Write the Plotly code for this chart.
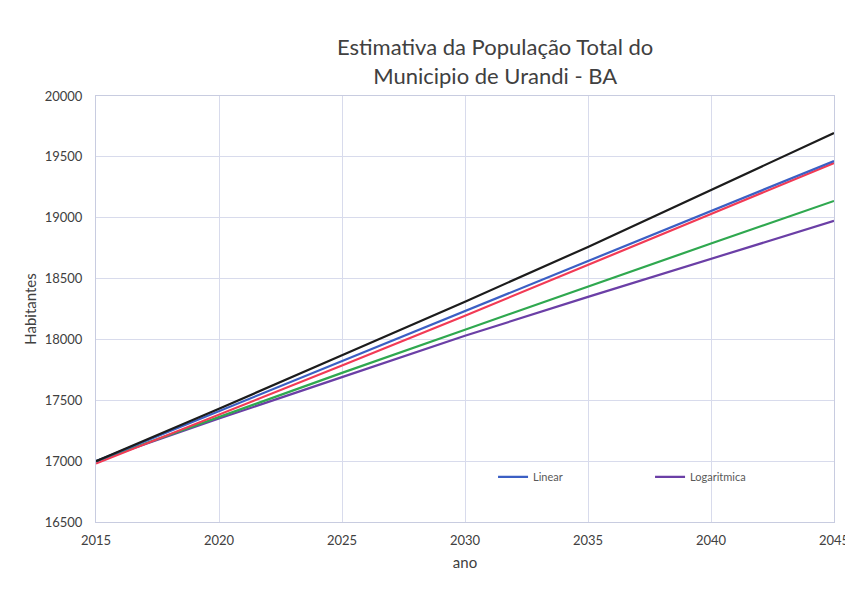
import plotly.graph_objects as go

anos = [2015, 2020, 2025, 2030, 2035, 2040, 2045]
serie_preta = [17000, 17430, 17870, 18310, 18760, 19225, 19696]
linear = [17000, 17411, 17822, 18233, 18644, 19055, 19466]
serie_vermelha = [16980, 17380, 17785, 18195, 18610, 19030, 19450]
serie_verde = [17000, 17365, 17725, 18080, 18435, 18788, 19138]
logaritmica = [17000, 17350, 17690, 18030, 18350, 18665, 18974]

series = [
    ("Exponencial", serie_preta, "#1c1c1c", False),
    ("Linear", linear, "#3b5fc4", True),
    ("Geométrica", serie_vermelha, "#f23a55", False),
    ("Potência", serie_verde, "#2fa84f", False),
    ("Logaritmica", logaritmica, "#6b3fa6", True),
]

fig = go.Figure()
for name, vals, color, show in [series[4], series[3], series[2], series[1], series[0]]:
    fig.add_trace(go.Scatter(x=anos, y=vals, mode="lines", name=name,
                             line=dict(color=color, width=2.2), showlegend=show))

font_family = "Lato, Open Sans, sans-serif"
fig.update_layout(
    width=845, height=590,
    margin=dict(l=96, r=11, t=96, b=68),
    paper_bgcolor="white", plot_bgcolor="white",
    font=dict(family=font_family, color="#595959", size=12),
    title=dict(text="Estimativa da População Total do<br>Municipio de Urandi - BA",
               x=0.586, xanchor="center", y=0.906, yanchor="middle",
               font=dict(size=22, color="#404040", family=font_family)),
    legend=dict(orientation="h", x=0.538, y=0.106, xanchor="left", yanchor="middle",
                font=dict(size=11, color="#595959"), entrywidth=112,
                bgcolor="rgba(0,0,0,0)", traceorder="reversed"),
    xaxis=dict(range=[2015, 2045], dtick=5, tick0=2015, showgrid=True,
               gridcolor="#d8dbec", gridwidth=1, zeroline=False,
               showline=True, linecolor="#c8cce0", mirror=True, automargin=False,
               ticks="", tickfont=dict(size=13, color="#404040"),
               ticklabeloverflow="allow", ticklabelstandoff=6,
               title=dict(text="ano", font=dict(size=15, color="#404040"), standoff=10)),
    yaxis=dict(range=[16500, 20000], dtick=500, tick0=16500, showgrid=True,
               tickformat="d",
               gridcolor="#d8dbec", gridwidth=1, zeroline=False,
               showline=True, linecolor="#c8cce0", mirror=True, automargin=False,
               ticks="", tickfont=dict(size=13, color="#404040"),
               ticklabelstandoff=10,
               title=dict(text="Habitantes", font=dict(size=15, color="#404040"), standoff=4)),
)

fig.write_html("out.html")
